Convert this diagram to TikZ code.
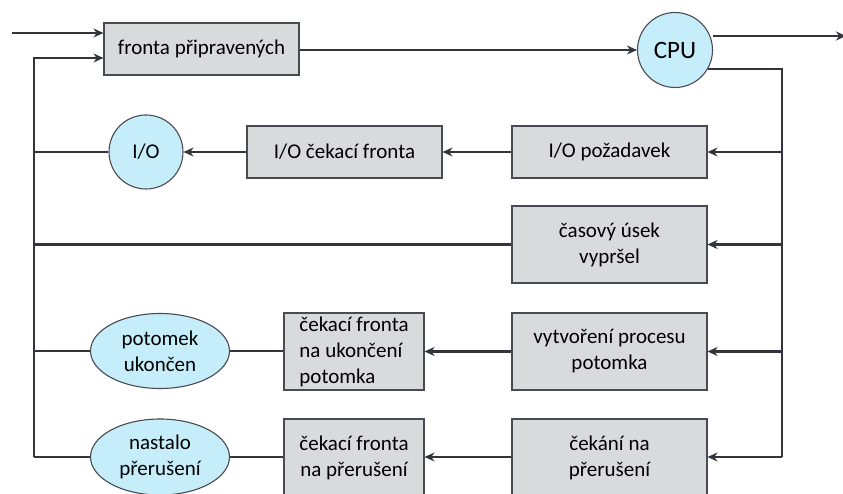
\documentclass[tikz,border=0pt]{standalone}
\usepackage{fontspec}
\setmainfont{Carlito}
\usetikzlibrary{arrows.meta}
\definecolor{boxfill}{HTML}{D9DADC}
\definecolor{boxline}{HTML}{4A4A52}
\definecolor{devfill}{HTML}{C6EEFA}
\definecolor{wire}{HTML}{34343C}
\tikzset{
  queue/.style={draw=boxline, line width=1.1pt, fill=boxfill, inner sep=0pt,
    minimum width=195pt, minimum height=52pt, align=center,
    font=\fontsize{21}{26}\selectfont},
  tallqueue/.style={queue, minimum height=77pt},
  narrowqueue/.style={tallqueue, minimum width=140pt},
  device/.style={draw=boxline, line width=1.1pt, fill=devfill, circle, inner sep=0pt,
    minimum size=74pt, align=center, font=\fontsize{21}{26}\selectfont},
  event/.style={draw=boxline, line width=1.1pt, fill=devfill, ellipse, inner sep=0pt,
    minimum width=139pt, minimum height=75pt, align=center,
    font=\fontsize{21}{26}\selectfont},
  wireline/.style={draw=wire, line width=2.6pt},
  flow/.style={wireline, -{Stealth[length=10pt,width=9pt]}},
}
\usetikzlibrary{shapes.geometric}
\begin{document}
\begin{tikzpicture}[x=1pt, y=-1pt]
\useasboundingbox (0,0) rectangle (843,494);
\clip (0,0) rectangle (843,494);

% queues and devices
\node[queue] (ready) at (201.5,49) {fronta připravených};
\node[device, minimum size=75pt, font=\fontsize{25}{30}\selectfont] (cpu) at (675,50) {CPU};

\node[queue] (ioreq) at (609.5,152) {I/O požadavek};
\node[queue] (iowait) at (344.5,152) {I/O čekací fronta};
\node[device] (io) at (146,152) {I/O};

\node[tallqueue] (slice) at (609.5,244.5) {časový úsek\\vypršel};

\node[tallqueue] (fork) at (609.5,351.5) {vytvoření procesu\\potomka};
\node[narrowqueue, align=left] (childq) at (354,351.5) {čekací fronta\\na ukončení\\potomka};
\node[event] (child) at (160,351) {potomek\\ukončen};

\node[tallqueue] (intwait) at (609.5,457.5) {čekání na\\přerušení};
\node[narrowqueue] (intq) at (354,457.5) {čekací fronta\\na přerušení};
\node[event, minimum height=76pt] (intr) at (160,457) {nastalo\\přerušení};

% junction points of the two bus lines
\coordinate (in) at (12,33);
\coordinate (out) at (846,36);
\coordinate (rtop) at (782,69);
\coordinate (rbot) at (782,457);
\coordinate (ltop) at (34,58);
\coordinate (lbot) at (34,457);

% entry and CPU
\draw[flow] (in) -- (in -| ready.west);
\draw[flow] (ready.east |- cpu) -- (cpu.west);
\draw[flow, line width=2pt] (cpu.east |- out) -- (out);

% dispatch bus on the right
\draw[wireline] (cpu.east |- rtop) ++(-5,0) -- (rtop) -- (rbot);
\draw[flow] (rtop |- ioreq) -- (ioreq.east);
\draw[flow] (rtop |- slice) -- (slice.east);
\draw[flow] (rtop |- fork) -- (fork.east);
\draw[flow] (rbot) -- (rbot -| intwait.east);

% waiting chains
\draw[flow] (ioreq.west) -- (iowait.east);
\draw[flow] (iowait.west) -- (io.east);
\draw[flow] (fork.west) -- (fork.west -| childq.east);
\draw[wireline] (childq.west |- child) -- (child.east);
\draw[flow] (intwait.west |- rbot) -- (rbot -| intq.east);
\draw[wireline] (intq.west |- intr) -- (intr.east);

% return bus on the left
\draw[flow] (lbot) -- (ltop) -- (ltop -| ready.west);
\draw[wireline] (io.west) -- (ltop |- io);
\draw[wireline] (slice.west) -- (ltop |- slice);
\draw[wireline] (child.west) -- (ltop |- child);
\draw[wireline] (intr.west) -- (lbot);
\end{tikzpicture}
\end{document}
